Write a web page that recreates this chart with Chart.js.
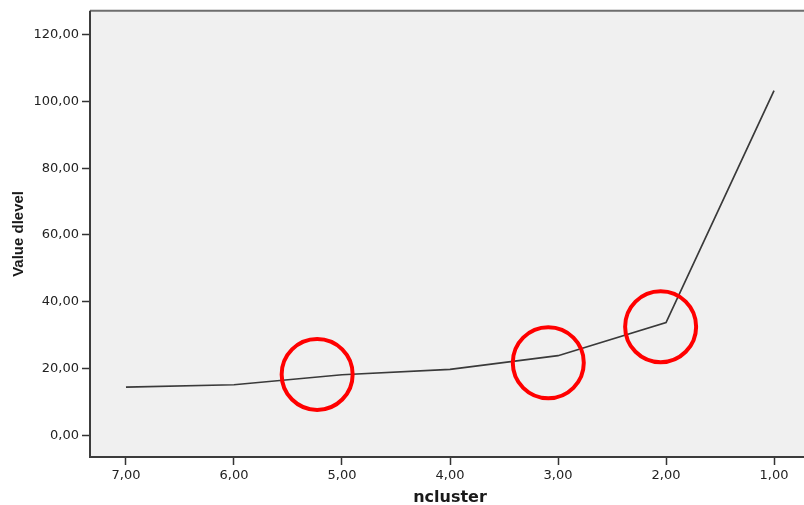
<!DOCTYPE html>
<html>
<head>
<meta charset="utf-8">
<script src="https://cdn.jsdelivr.net/npm/chart.js@4/dist/chart.umd.min.js"></script>
<style>
  html, body { margin: 0; padding: 0; background: #ffffff; overflow: hidden; }
  #wrap { position: relative; width: 812px; height: 505px; }
</style>
</head>
<body>
<div id="wrap"><canvas id="chart"></canvas></div>
<script>
// Number of clusters on the (reversed) horizontal axis
const ncluster = [7, 6, 5, 4, 3, 2, 1];
// Dendrogram level value at each cluster count
const dlevel = [14.4, 15.1, 18.1, 19.7, 23.8, 33.7, 103.2];

// Highlighted elbow candidates (ring centres in data units)
const markX = [5.23, 3.09, 2.05];
const markY = [18.2, 21.7, 32.5];

// Tick values for each axis
const xTicks = [7, 6, 5, 4, 3, 2, 1];
const yTicks = [0, 20, 40, 60, 80, 100, 120];

const fmt = v => v.toFixed(2).replace('.', ',');

// Light grey plot panel with a dark frame
const panel = {
  id: 'panel',
  beforeDatasetsDraw(chart) {
    const { ctx, chartArea: a } = chart;
    ctx.save();
    ctx.fillStyle = '#f0f0f0';
    ctx.fillRect(a.left, a.top, a.right - a.left, a.bottom - a.top);
    ctx.restore();
  },
  afterDraw(chart) {
    const { ctx, chartArea: a } = chart;
    ctx.save();
    ctx.lineWidth = 2;
    ctx.strokeStyle = '#6e6e6e';
    ctx.beginPath();
    ctx.moveTo(a.left, a.top);
    ctx.lineTo(a.right, a.top);
    ctx.stroke();
    ctx.strokeStyle = '#3c3c3c';
    ctx.beginPath();
    ctx.moveTo(a.left, a.top);
    ctx.lineTo(a.left, a.bottom);
    ctx.lineTo(a.right, a.bottom);
    ctx.stroke();
    ctx.restore();
  }
};

new Chart(document.getElementById('chart'), {
  type: 'line',
  data: {
    datasets: [
      {
        type: 'scatter',
        data: markX.map((x, i) => ({ x, y: markY[i] })),
        pointStyle: 'circle',
        pointRadius: 35.5,
        pointHoverRadius: 35.5,
        pointBorderWidth: 4,
        pointBorderColor: '#ff0000',
        pointBackgroundColor: 'rgba(0,0,0,0)',
        showLine: false,
        order: 0
      },
      {
        data: ncluster.map((x, i) => ({ x, y: dlevel[i] })),
        borderColor: '#3a3a3a',
        borderWidth: 1.7,
        pointRadius: 0,
        tension: 0,
        fill: false,
        order: 1
      }
    ]
  },
  options: {
    responsive: true,
    maintainAspectRatio: false,
    animation: false,
    events: [],
    layout: { autoPadding: false, padding: { top: 8, right: 2, bottom: 0, left: 0 } },
    plugins: { legend: { display: false }, tooltip: { enabled: false } },
    scales: {
      x: {
        type: 'linear',
        reverse: true,
        min: 0.667,
        max: 7.333,
        afterBuildTicks: s => { s.ticks = xTicks.map(v => ({ value: v })); },
        afterFit: s => { s.height = 48; },
        border: { display: false },
        grid: { drawOnChartArea: false, drawTicks: true, tickLength: 8, tickColor: '#333333', tickWidth: 1.5 },
        ticks: {
          callback: v => fmt(v),
          color: '#222222',
          padding: 3,
          maxRotation: 0,
          font: { family: 'DejaVu Sans', size: 13 }
        },
        title: {
          display: true,
          text: 'ncluster',
          color: '#1a1a1a',
          padding: { top: 0, bottom: -2 },
          font: { family: 'DejaVu Sans', size: 16, weight: 'bold' }
        }
      },
      y: {
        type: 'linear',
        min: -6.55,
        max: 127.15,
        afterBuildTicks: s => { s.ticks = yTicks.map(v => ({ value: v })); },
        afterFit: s => { s.width = 90; },
        border: { display: false },
        grid: { drawOnChartArea: false, drawTicks: true, tickLength: 8, tickColor: '#333333', tickWidth: 1.5 },
        ticks: {
          callback: v => fmt(v),
          color: '#222222',
          padding: 3,
          font: { family: 'DejaVu Sans', size: 13 }
        },
        title: {
          display: true,
          text: 'Value dlevel',
          color: '#1a1a1a',
          padding: { top: 10, bottom: 0 },
          font: { family: 'Liberation Sans', size: 15, weight: 'bold' }
        }
      }
    }
  },
  plugins: [panel]
});
</script>
</body>
</html>
